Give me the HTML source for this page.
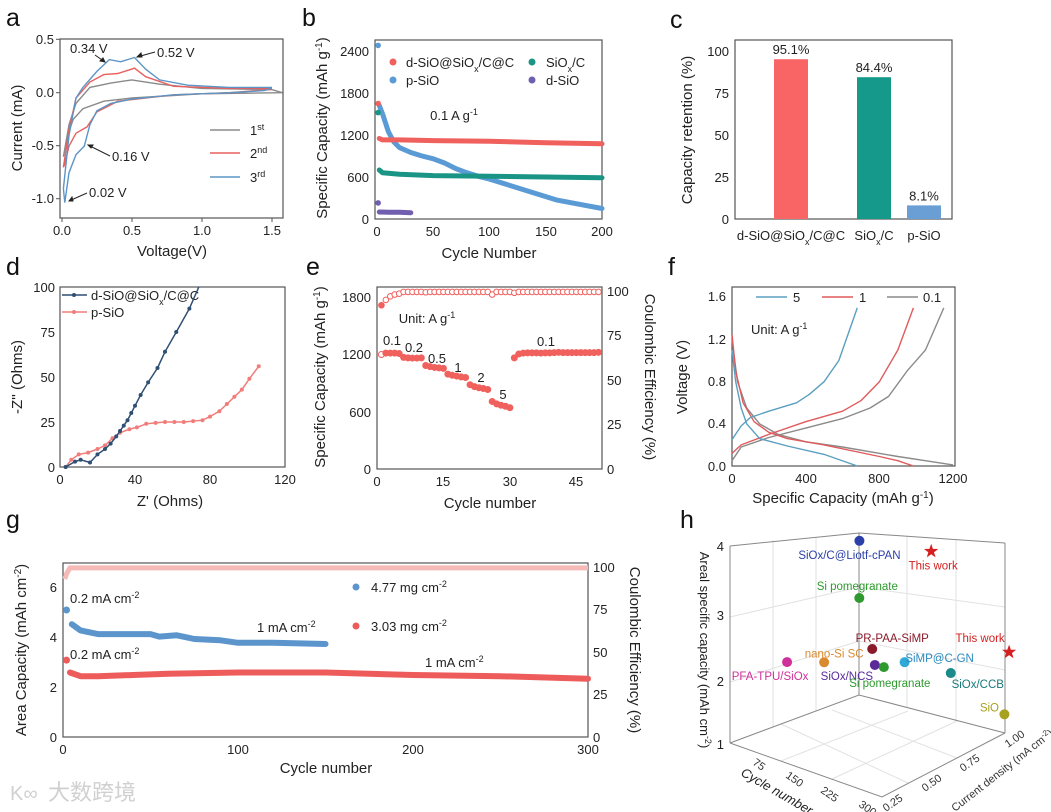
<!DOCTYPE html>
<html><head><meta charset="utf-8">
<style>
body{margin:0;background:#fff;}
svg{display:block;font-family:"Liberation Sans","Noto Sans CJK SC",sans-serif;}
.t{font-size:13px;fill:#222;}
.ax{font-size:15px;fill:#222;}
.pl{font-size:25px;fill:#111;}
.box{fill:none;stroke:#555;stroke-width:1.2;}
</style></head>
<body>
<svg id="fig" width="1051" height="812" viewBox="0 0 1051 812">
<!-- Panel letters -->
<text class="pl" x="6" y="26">a</text>
<text class="pl" x="302" y="26">b</text>
<text class="pl" x="670" y="28">c</text>
<text class="pl" x="6" y="275">d</text>
<text class="pl" x="306" y="275">e</text>
<text class="pl" x="668" y="275">f</text>
<text class="pl" x="6" y="528">g</text>
<text class="pl" x="680" y="528">h</text>

<!-- Panel a static -->
<g>
<rect class="box" x="60" y="39" width="223" height="179"/>
<g class="t" text-anchor="end">
<text x="54" y="44">0.5</text><text x="54" y="97">0.0</text><text x="54" y="150">-0.5</text><text x="54" y="203">-1.0</text></g>
<g stroke="#555"><line x1="56" y1="39.3" x2="60" y2="39.3"/><line x1="56" y1="92.7" x2="60" y2="92.7"/><line x1="56" y1="145.7" x2="60" y2="145.7"/><line x1="56" y1="198.7" x2="60" y2="198.7"/>
<line x1="62" y1="218" x2="62" y2="222"/><line x1="132" y1="218" x2="132" y2="222"/><line x1="202" y1="218" x2="202" y2="222"/><line x1="272" y1="218" x2="272" y2="222"/></g>
<g class="t" text-anchor="middle"><text x="62" y="235">0.0</text><text x="132" y="235">0.5</text><text x="202" y="235">1.0</text><text x="272" y="235">1.5</text></g>
<text class="ax" x="172" y="256" text-anchor="middle">Voltage(V)</text>
<text class="ax" transform="translate(22,128) rotate(-90)" text-anchor="middle">Current (mA)</text>
<g>
<line x1="210" y1="130" x2="240" y2="130" stroke="#8a8a8a" stroke-width="1.5"/><text class="t" x="250" y="135">1<tspan baseline-shift="super" font-size="9">st</tspan></text>
<line x1="210" y1="153" x2="240" y2="153" stroke="#e8605e" stroke-width="1.5"/><text class="t" x="250" y="158">2<tspan baseline-shift="super" font-size="9">nd</tspan></text>
<line x1="210" y1="177" x2="240" y2="177" stroke="#5b95c5" stroke-width="1.5"/><text class="t" x="250" y="182">3<tspan baseline-shift="super" font-size="9">rd</tspan></text></g>
<g class="t">
<text x="70" y="53">0.34 V</text><text x="157" y="57">0.52 V</text><text x="112" y="161">0.16 V</text><text x="89" y="197">0.02 V</text></g>
<g stroke="#222" stroke-width="1" fill="none">
<line x1="95" y1="55" x2="105" y2="62"/><path d="M105,62 l-5,-1 l3,-3z" fill="#222"/>
<line x1="155" y1="52" x2="137" y2="57"/><path d="M137,57 l4,-4 l1,4z" fill="#222"/>
<line x1="110" y1="156" x2="88" y2="145"/><path d="M88,145 l5,0 l-2,3z" fill="#222"/>
<line x1="87" y1="193" x2="69" y2="201"/><path d="M69,201 l3,-4 l1,4z" fill="#222"/></g>
</g>

<!-- Panel b static -->
<g>
<rect class="box" x="375" y="40" width="227" height="179"/>
<g class="t" text-anchor="end"><text x="369" y="56">2400</text><text x="369" y="98">1800</text><text x="369" y="140">1200</text><text x="369" y="182">600</text><text x="369" y="224">0</text></g>
<g class="t" text-anchor="middle"><text x="377" y="236">0</text><text x="433" y="236">50</text><text x="489" y="236">100</text><text x="546" y="236">150</text><text x="602" y="236">200</text></g>
<text class="ax" x="489" y="258" text-anchor="middle">Cycle Number</text>
<text class="ax" transform="translate(327,128) rotate(-90)" text-anchor="middle">Specific Capacity (mAh g<tspan baseline-shift="super" font-size="10">-1</tspan>)</text>
<g class="t">
<circle cx="393" cy="62" r="3.5" fill="#f0605d"/><text x="406" y="67">d-SiO@SiO<tspan baseline-shift="sub" font-size="9">x</tspan>/C@C</text>
<circle cx="532" cy="62" r="3.5" fill="#1a9585"/><text x="546" y="67">SiO<tspan baseline-shift="sub" font-size="9">x</tspan>/C</text>
<circle cx="393" cy="80" r="3.5" fill="#5b9bd5"/><text x="406" y="85">p-SiO</text>
<circle cx="532" cy="80" r="3.5" fill="#6f5fae"/><text x="546" y="85">d-SiO</text></g>
<text class="t" x="454" y="120" text-anchor="middle">0.1 A g<tspan baseline-shift="super" font-size="9">-1</tspan></text>
</g>

<!-- Panel c static -->
<g>
<rect class="box" x="735" y="40" width="217" height="179"/>
<g class="t" text-anchor="end"><text x="729" y="56">100</text><text x="729" y="98">75</text><text x="729" y="140">50</text><text x="729" y="182">25</text><text x="729" y="224">0</text></g>
<text class="ax" transform="translate(692,130) rotate(-90)" text-anchor="middle">Capacity retention (%)</text>
<g class="t" text-anchor="middle"><text x="791" y="240">d-SiO@SiO<tspan baseline-shift="sub" font-size="9">x</tspan>/C@C</text><text x="874" y="240">SiO<tspan baseline-shift="sub" font-size="9">x</tspan>/C</text><text x="924" y="240">p-SiO</text></g>
</g>

<!-- Panel d static -->
<g>
<rect class="box" x="60" y="287" width="225" height="180"/>
<g class="t" text-anchor="end"><text x="55" y="292">100</text><text x="55" y="337">75</text><text x="55" y="382">50</text><text x="55" y="427">25</text><text x="55" y="472">0</text></g>
<g class="t" text-anchor="middle"><text x="60" y="484">0</text><text x="135" y="484">40</text><text x="210" y="484">80</text><text x="285" y="484">120</text></g>
<text class="ax" x="170" y="506" text-anchor="middle">Z' (Ohms)</text>
<text class="ax" transform="translate(22,377) rotate(-90)" text-anchor="middle">-Z'' (Ohms)</text>
<g class="t">
<line x1="62" y1="295" x2="87" y2="295" stroke="#2f4f73" stroke-width="1.5"/><circle cx="74" cy="295" r="2" fill="#2f4f73"/><text x="91" y="300">d-SiO@SiO<tspan baseline-shift="sub" font-size="9">x</tspan>/C@C</text>
<line x1="62" y1="312" x2="87" y2="312" stroke="#f07d7a" stroke-width="1.5"/><circle cx="74" cy="312" r="2" fill="#f07d7a"/><text x="91" y="317">p-SiO</text></g>
</g>

<!-- Panel e static -->
<g>
<rect class="box" x="377" y="287" width="225" height="182"/>
<g class="t" text-anchor="end"><text x="371" y="302">1800</text><text x="371" y="359">1200</text><text x="371" y="417">600</text><text x="371" y="474">0</text></g>
<g class="t"><text x="607" y="296">100</text><text x="607" y="340">75</text><text x="607" y="385">50</text><text x="607" y="429">25</text><text x="607" y="474">0</text></g>
<g class="t" text-anchor="middle"><text x="377" y="486">0</text><text x="443" y="486">15</text><text x="510" y="486">30</text><text x="576" y="486">45</text></g>
<text class="ax" x="490" y="508" text-anchor="middle">Cycle number</text>
<text class="ax" transform="translate(325,377) rotate(-90)" text-anchor="middle">Specific Capacity (mAh g<tspan baseline-shift="super" font-size="10">-1</tspan>)</text>
<text class="ax" transform="translate(645,377) rotate(90)" text-anchor="middle">Coulombic Efficiency (%)</text>
<text class="t" x="427" y="323" text-anchor="middle">Unit: A g<tspan baseline-shift="super" font-size="9">-1</tspan></text>
<g class="t" text-anchor="middle"><text x="392" y="345">0.1</text><text x="414" y="352">0.2</text><text x="437" y="363">0.5</text><text x="458" y="372">1</text><text x="481" y="382">2</text><text x="503" y="399">5</text><text x="546" y="346">0.1</text></g>
</g>

<!-- Panel f static -->
<g>
<rect class="box" x="732" y="287" width="223" height="179"/>
<g class="t" text-anchor="end"><text x="726" y="301">1.6</text><text x="726" y="344">1.2</text><text x="726" y="386">0.8</text><text x="726" y="428">0.4</text><text x="726" y="471">0.0</text></g>
<g class="t" text-anchor="middle"><text x="732" y="483">0</text><text x="806" y="483">400</text><text x="879" y="483">800</text><text x="953" y="483">1200</text></g>
<text class="ax" x="843" y="503" text-anchor="middle">Specific Capacity (mAh g<tspan baseline-shift="super" font-size="10">-1</tspan>)</text>
<text class="ax" transform="translate(687,377) rotate(-90)" text-anchor="middle">Voltage (V)</text>
<g class="t">
<line x1="756" y1="297" x2="787" y2="297" stroke="#5b9fc0" stroke-width="1.5"/><text x="793" y="302">5</text>
<line x1="822" y1="297" x2="853" y2="297" stroke="#e05a5c" stroke-width="1.5"/><text x="859" y="302">1</text>
<line x1="887" y1="297" x2="918" y2="297" stroke="#8a8a8a" stroke-width="1.5"/><text x="923" y="302">0.1</text></g>
<text class="t" x="751" y="334">Unit:  A g<tspan baseline-shift="super" font-size="9">-1</tspan></text>
</g>

<!-- Panel g static -->
<g>
<rect class="box" x="63" y="563" width="525" height="174"/>
<g class="t" text-anchor="end"><text x="57" y="592">6</text><text x="57" y="642">4</text><text x="57" y="692">2</text><text x="57" y="742">0</text></g>
<g class="t"><text x="593" y="572">100</text><text x="593" y="614">75</text><text x="593" y="657">50</text><text x="593" y="699">25</text><text x="593" y="742">0</text></g>
<g class="t" text-anchor="middle"><text x="63" y="754">0</text><text x="238" y="754">100</text><text x="413" y="754">200</text><text x="588" y="754">300</text></g>
<text class="ax" x="326" y="773" text-anchor="middle">Cycle number</text>
<text class="ax" transform="translate(26,650) rotate(-90)" text-anchor="middle">Area Capacity (mAh cm<tspan baseline-shift="super" font-size="10">-2</tspan>)</text>
<text class="ax" transform="translate(630,650) rotate(90)" text-anchor="middle">Coulombic Efficiency (%)</text>
<g class="t">
<circle cx="356" cy="587" r="3.5" fill="#5b95cc"/><text x="371" y="592">4.77 mg cm<tspan baseline-shift="super" font-size="9">-2</tspan></text>
<circle cx="356" cy="626" r="3.5" fill="#ee5b5b"/><text x="371" y="631">3.03 mg cm<tspan baseline-shift="super" font-size="9">-2</tspan></text></g>
<g class="t">
<text x="70" y="603">0.2 mA cm<tspan baseline-shift="super" font-size="9">-2</tspan></text>
<text x="257" y="632">1 mA cm<tspan baseline-shift="super" font-size="9">-2</tspan></text>
<text x="70" y="659">0.2 mA cm<tspan baseline-shift="super" font-size="9">-2</tspan></text>
<text x="425" y="667">1 mA cm<tspan baseline-shift="super" font-size="9">-2</tspan></text></g>
<text x="48" y="800" font-size="22" fill="#d0d0d0">大数跨境</text>
<text x="10" y="800" font-size="20" fill="#d0d0d0">K∞</text>
</g>

<!-- Panel h static -->
<g>
<g stroke="#e2e2e2" stroke-width="1" fill="none">
<line x1="730" y1="617" x2="859" y2="587"/><line x1="730" y1="682" x2="859" y2="641"/>
<line x1="859" y1="587" x2="1005" y2="607"/><line x1="859" y1="641" x2="1005" y2="670"/>
<line x1="773" y1="540" x2="773" y2="727"/><line x1="816" y1="537" x2="816" y2="711"/>
<line x1="907" y1="536" x2="907" y2="708"/><line x1="956" y1="540" x2="956" y2="721"/>
<line x1="781" y1="761" x2="908" y2="711"/><line x1="832" y1="779" x2="957" y2="721"/>
<line x1="908" y1="783" x2="781" y2="724"/><line x1="957" y1="758" x2="832" y2="710"/></g>
<g stroke="#888" stroke-width="1" fill="none">
<line x1="730" y1="546" x2="730" y2="743"/><line x1="859" y1="533" x2="859" y2="695"/><line x1="1005" y1="543" x2="1005" y2="733"/>
<polyline points="730,743 882,797 1005,733"/><polyline points="730,743 859,695 1005,733"/><polyline points="730,546 859,533 1005,543"/></g>
<g class="t" text-anchor="end"><text x="724" y="551">4</text><text x="724" y="620">3</text><text x="724" y="686">2</text><text x="724" y="749">1</text></g>
<text class="t" transform="translate(700,650) rotate(90)" text-anchor="middle">Areal specific capacity (mAh cm<tspan baseline-shift="super" font-size="9">-2</tspan>)</text>
<g font-size="11" fill="#333">
<text transform="translate(752,764) rotate(35)">75</text><text transform="translate(785,777) rotate(35)">150</text><text transform="translate(820,792) rotate(35)">225</text><text transform="translate(858,806) rotate(35)">300</text></g>
<text class="t" font-style="italic" transform="translate(740,775) rotate(30)">Cycle number</text>
<g font-size="11" fill="#333">
<text transform="translate(886,812) rotate(-35)">0.25</text><text transform="translate(925,792) rotate(-35)">0.50</text><text transform="translate(963,772) rotate(-35)">0.75</text><text transform="translate(1008,748) rotate(-35)">1.00</text></g>
<text font-size="11" fill="#333" transform="translate(955,812) rotate(-38)">Current density (mA cm<tspan baseline-shift="super" font-size="8">-2</tspan>)</text>
</g>
<g id="marks"></g>
</svg>
<script>
// ---------- data ----------
// a: CV cycles (upper + lower branch, V, mA)
const aV1=[0.01,0.05,0.1,0.2,0.35,0.5,0.7,1.0,1.5,1.58,1.0,0.5,0.3,0.15,0.08,0.04,0.01];
const aI1=[-0.6,-0.3,-0.1,0.05,0.09,0.12,0.08,0.04,0.03,0.0,-0.01,-0.05,-0.08,-0.15,-0.25,-0.4,-0.6];
const aV2=[0.01,0.05,0.1,0.2,0.3,0.4,0.52,0.6,0.8,1.2,1.5,1.5,1.2,0.8,0.4,0.25,0.18,0.1,0.05,0.02,0.01];
const aI2=[-0.7,-0.35,-0.05,0.1,0.17,0.18,0.23,0.15,0.06,0.04,0.04,0.03,0.0,-0.02,-0.08,-0.18,-0.32,-0.38,-0.5,-0.67,-0.7];
const aV3=[0.01,0.05,0.1,0.15,0.25,0.34,0.42,0.52,0.6,0.7,0.9,1.2,1.5,1.5,1.45,1.2,0.8,0.5,0.35,0.25,0.2,0.16,0.1,0.05,0.02,0.01];
const aI3=[-0.9,-0.4,-0.05,0.05,0.2,0.31,0.29,0.33,0.22,0.12,0.07,0.05,0.05,0.04,0.02,0.0,-0.02,-0.06,-0.1,-0.17,-0.3,-0.5,-0.58,-0.75,-1.03,-0.9];
// b: cycling
const bRedC=[1,2,5,20,50,100,150,200], bRedV=[1650,1150,1130,1130,1120,1110,1090,1075];
const bTealC=[1,2,5,20,50,100,150,200], bTealV=[1520,700,660,640,620,610,600,590];
const bBlueC=[1,2,5,10,15,20,30,40,50,60,70,80,90,100,120,140,150,160,180,200];
const bBlueV=[2480,1620,1500,1250,1100,1020,950,900,860,800,720,660,610,570,470,370,320,270,210,150];
const bPurC=[1,2,10,20,30], bPurV=[230,100,95,95,90];
// c: retention
const cCats=["d-SiO@SiOx/C@C","SiOx/C","p-SiO"];
const cVals=[95.1,84.4,8.1];
const cLabels=["95.1%","84.4%","8.1%"];
// d: EIS
const dBlueX=[3,8,11,16,20,24,27,30,32,34,36,38,40,43,47,52,56,62,69,74];
const dBlueY=[0,3,4,2.5,7,10,13,17,20,23,26,30,34,40,47,55,64,75,88,100];
const dRedX=[3,6,10,15,20,24,28,32,37,41,46,51,56,61,66,71,76,80,85,89,93,97,101,106];
const dRedY=[0,4,7,8,10,12,16,19,21,22,24,24.5,25,25,25,25.5,26,28,31,35,39,43,49,56];
// e: rate
const eCap=[1195,1210,1210,1210,1205,1165,1160,1158,1158,1160,1080,1068,1060,1055,1050,990,978,970,962,955,880,860,848,840,830,705,680,665,655,640,1160,1200,1210,1212,1212,1212,1210,1212,1212,1215,1218,1215,1215,1215,1215,1215,1215,1215,1215,1218];
const eCE=[92,95,97,98,98.5,99.5,99.5,99.5,99.5,99.5,99.3,99.5,99.5,99.5,99.5,99.5,99.5,99.5,99.5,99.5,99.5,99.5,99.5,99.5,99.5,98,99.5,99.5,99.5,99.5,99,99.5,99.5,99.5,99.5,99.5,99.5,99.5,99.5,99.5,99.5,99.5,99.5,99.5,99.5,99.5,99.5,99.5,99.5,99.5];
// f: voltage profiles
const f5cC=[0,50,100,200,350,420,500,580,620,680], f5cV=[0.25,0.38,0.46,0.52,0.6,0.68,0.8,1.0,1.2,1.5];
const f5dC=[0,20,50,80,150,300,500,680], f5dV=[1.1,0.8,0.55,0.4,0.26,0.19,0.11,0];
const f1cC=[0,50,200,400,600,700,800,900,985], f1cV=[0.12,0.2,0.3,0.42,0.52,0.62,0.8,1.1,1.5];
const f1dC=[0,20,60,120,200,300,500,800,900,985], f1dV=[1.25,0.9,0.6,0.42,0.32,0.26,0.2,0.09,0.05,0];
const f01cC=[0,50,200,400,600,750,850,950,1050,1150], f01cV=[0.05,0.18,0.27,0.36,0.45,0.55,0.66,0.9,1.1,1.5];
const f01dC=[0,30,80,150,250,400,600,900,1050,1200], f01dV=[1.2,0.8,0.55,0.4,0.3,0.23,0.18,0.09,0.05,0.01];
// g: long cycling
const gBlueC=[2,5,10,20,40,50,55,65,75,90,100,120,150], gBlueV=[5.12,4.55,4.3,4.15,4.15,4.15,4.05,4.1,3.95,3.9,3.8,3.8,3.75];
const gRedC=[2,4,10,20,40,60,100,150,200,250,300], gRedV=[3.1,2.6,2.45,2.45,2.5,2.55,2.6,2.6,2.5,2.45,2.35];
const gCEC=[1,2,4,300], gCEV=[93,96,99.5,99.5];
// h: 3D comparison (cycle, current density, areal capacity)
const hNames=["SiOx/C@Liotf-cPAN","This work","Si pomegranate","PR-PAA-SiMP","nano-Si SC","PFA-TPU/SiOx","SiOx/NCS","Si pomegranate","SiMP@C-GN","This work","SiOx/CCB","SiO"];
const hCycle=[155,248,158,177,121,77,179,187,215,337,264,331];
const hCurrent=[0.56,0.71,0.55,0.57,0.45,0.36,0.58,0.61,0.65,0.91,0.78,0.90];
const hCap=[4.1,4.0,3.25,2.5,2.3,2.3,2.25,2.2,2.3,2.45,2.1,1.5];
const hColors=["#2a3fa8","#d42020","#2e9a2e","#8a1a2a","#d98a30","#d0309a","#5a2a9a","#2e9a2e","#30a8d8","#d42020","#1a8a8a","#a8a020"];
const hLabelColors=["#2a3fa8","#d42020","#2e9a2e","#8a1a2a","#d98a30","#d0309a","#5a2a9a","#2e9a2e","#2a8ac0","#d42020","#1a7a7a","#a8a020"];
const hLabelDX=[-10,2,-2,20,10,-17,-28,6,35,-29,27,-15];
const hLabelDY=[18,18,-8,-7,-5,18,15,20,0,-10,15,-3];

// ---------- scales ----------
const NS="http://www.w3.org/2000/svg";
const root=document.getElementById('marks');
function mk(tag,attrs,parent){const e=document.createElementNS(NS,tag);for(const k in attrs)e.setAttribute(k,attrs[k]);(parent||root).appendChild(e);return e;}
const aX=v=>62+v*139.5, aY=i=>92.7-i*106.7;
const bX=c=>377+c*1.125, bY=v=>219-v*0.07;
const cY=p=>219-p*1.68;
const dX=z=>60+z*1.875, dY=v=>467-v*1.8;
const eX=c=>377+c*4.43, eY=v=>469-v*0.0958, eY2=p=>469-p*1.78;
const fX=c=>732+c*0.1842, fY=v=>466-v*105.4;
const gX=c=>63+c*1.75, gY=v=>737-v*24.8, gY2=p=>737-p*1.70;
const hX=(c,u,z)=>730+c*0.507+(u-0.25)*164;
const hY=(c,u,z)=>743+c*0.18-(u-0.25)*85.3-(z-1)*65.7;
function pts(xs,ys,fx,fy){return xs.map((x,i)=>fx(x).toFixed(1)+','+fy(ys[i]).toFixed(1)).join(' ');}

// a
[[aV1,aI1,'#8a8a8a','cv-cycle-1'],[aV2,aI2,'#e8605e','cv-cycle-2'],[aV3,aI3,'#5b95c5','cv-cycle-3']].forEach(s=>{
  const p=mk('polyline',{points:pts(s[0],s[1],aX,aY),fill:'none',stroke:s[2],'stroke-width':1.4});
  
  
});
// b
[[bBlueC,bBlueV,'#5b9bd5','p-sio-series'],[bRedC,bRedV,'#f0605d','d-sio-sioxcc-series'],[bTealC,bTealV,'#1a9585','siox-c-series'],[bPurC,bPurV,'#6f5fae','d-sio-series']].forEach(s=>{
  const p=mk('polyline',{points:pts(s[0].slice(1),s[1].slice(1),bX,bY),fill:'none',stroke:s[2],'stroke-width':5,'stroke-linecap':'round','stroke-linejoin':'round'});
  
  
  const d=mk('circle',{cx:bX(s[0][0]),cy:bY(s[1][0]),r:2.8,fill:s[2]});
  
  
});
// c
const cColors=['#f96565','#14998a','#6a9fd6'];
const cCenters=[791,874,924];
cVals.forEach((v,i)=>{
  const r=mk('rect',{x:cCenters[i]-17,y:cY(v),width:34,height:cY(0)-cY(v),fill:cColors[i]});
  
  
  const t=mk('text',{x:cCenters[i],y:cY(v)-5,'text-anchor':'middle',class:'t'});
  t.textContent=cLabels[i];
  
  
});
// d
[[dRedX,dRedY,'#f07d7a','p-sio-eis'],[dBlueX,dBlueY,'#2f4f73','d-sio-sioxcc-eis']].forEach(s=>{
  const p=mk('polyline',{points:pts(s[0],s[1],dX,dY),fill:'none',stroke:s[2],'stroke-width':1.5});
  
  
  s[0].forEach((x,i)=>{
    if(s[1][i]>=100 && i===s[0].length-1)return;
    const c=mk('circle',{cx:dX(x),cy:dY(s[1][i]),r:2,fill:s[2]});
    
    
  });
});
// e
eCE.forEach((v,i)=>{
  const c=mk('circle',{cx:eX(i+1),cy:eY2(v),r:2.8,fill:i===0?'#f0605d':'#fff',stroke:'#f0605d','stroke-width':1});
  
  
});
eCap.forEach((v,i)=>{
  const c=mk('circle',{cx:eX(i+1),cy:eY(v),r:3,fill:i===0?'#fff':'#f0605d',stroke:'#f0605d','stroke-width':1});
  
  
});
// f
[[f01cC,f01cV,'#8a8a8a','rate-0.1-charge'],[f01dC,f01dV,'#8a8a8a','rate-0.1-discharge'],[f1cC,f1cV,'#e05a5c','rate-1-charge'],[f1dC,f1dV,'#e05a5c','rate-1-discharge'],[f5cC,f5cV,'#5b9fc0','rate-5-charge'],[f5dC,f5dV,'#5b9fc0','rate-5-discharge']].forEach(s=>{
  const p=mk('polyline',{points:pts(s[0],s[1],fX,fY),fill:'none',stroke:s[2],'stroke-width':1.4,'stroke-linejoin':'round'});
  
  
});
// g
const gce=mk('polyline',{points:pts(gCEC,gCEV,gX,gY2),fill:'none',stroke:'#f5b9b7','stroke-width':5});


[[gBlueC,gBlueV,'#5b95cc','loading-4.77-series'],[gRedC,gRedV,'#ee5b5b','loading-3.03-series']].forEach(s=>{
  const p=mk('polyline',{points:pts(s[0].slice(1),s[1].slice(1),gX,gY),fill:'none',stroke:s[2],'stroke-width':6,'stroke-linecap':'round','stroke-linejoin':'round'});
  
  
  const d=mk('circle',{cx:gX(s[0][0]),cy:gY(s[1][0]),r:3.5,fill:s[2]});
  
  
});
// h
hNames.forEach((n,i)=>{
  const x=hX(hCycle[i],hCurrent[i],hCap[i]), y=hY(hCycle[i],hCurrent[i],hCap[i]);
  let m;
  if(n==='This work'){
    const pp=[];for(let k=0;k<10;k++){const r=k%2?3:7.5,a=-Math.PI/2+k*Math.PI/5;pp.push((x+r*Math.cos(a)).toFixed(1)+','+(y+r*Math.sin(a)).toFixed(1));}
    m=mk('polygon',{points:pp.join(' '),fill:hColors[i]});
  } else {
    m=mk('circle',{cx:x,cy:y,r:5,fill:hColors[i]});
  }
  
  
  const t=mk('text',{x:x+hLabelDX[i],y:y+hLabelDY[i],'text-anchor':'middle','font-size':11.5,fill:hLabelColors[i]});
  t.textContent=n;
  
  
});
</script>
</body></html>
